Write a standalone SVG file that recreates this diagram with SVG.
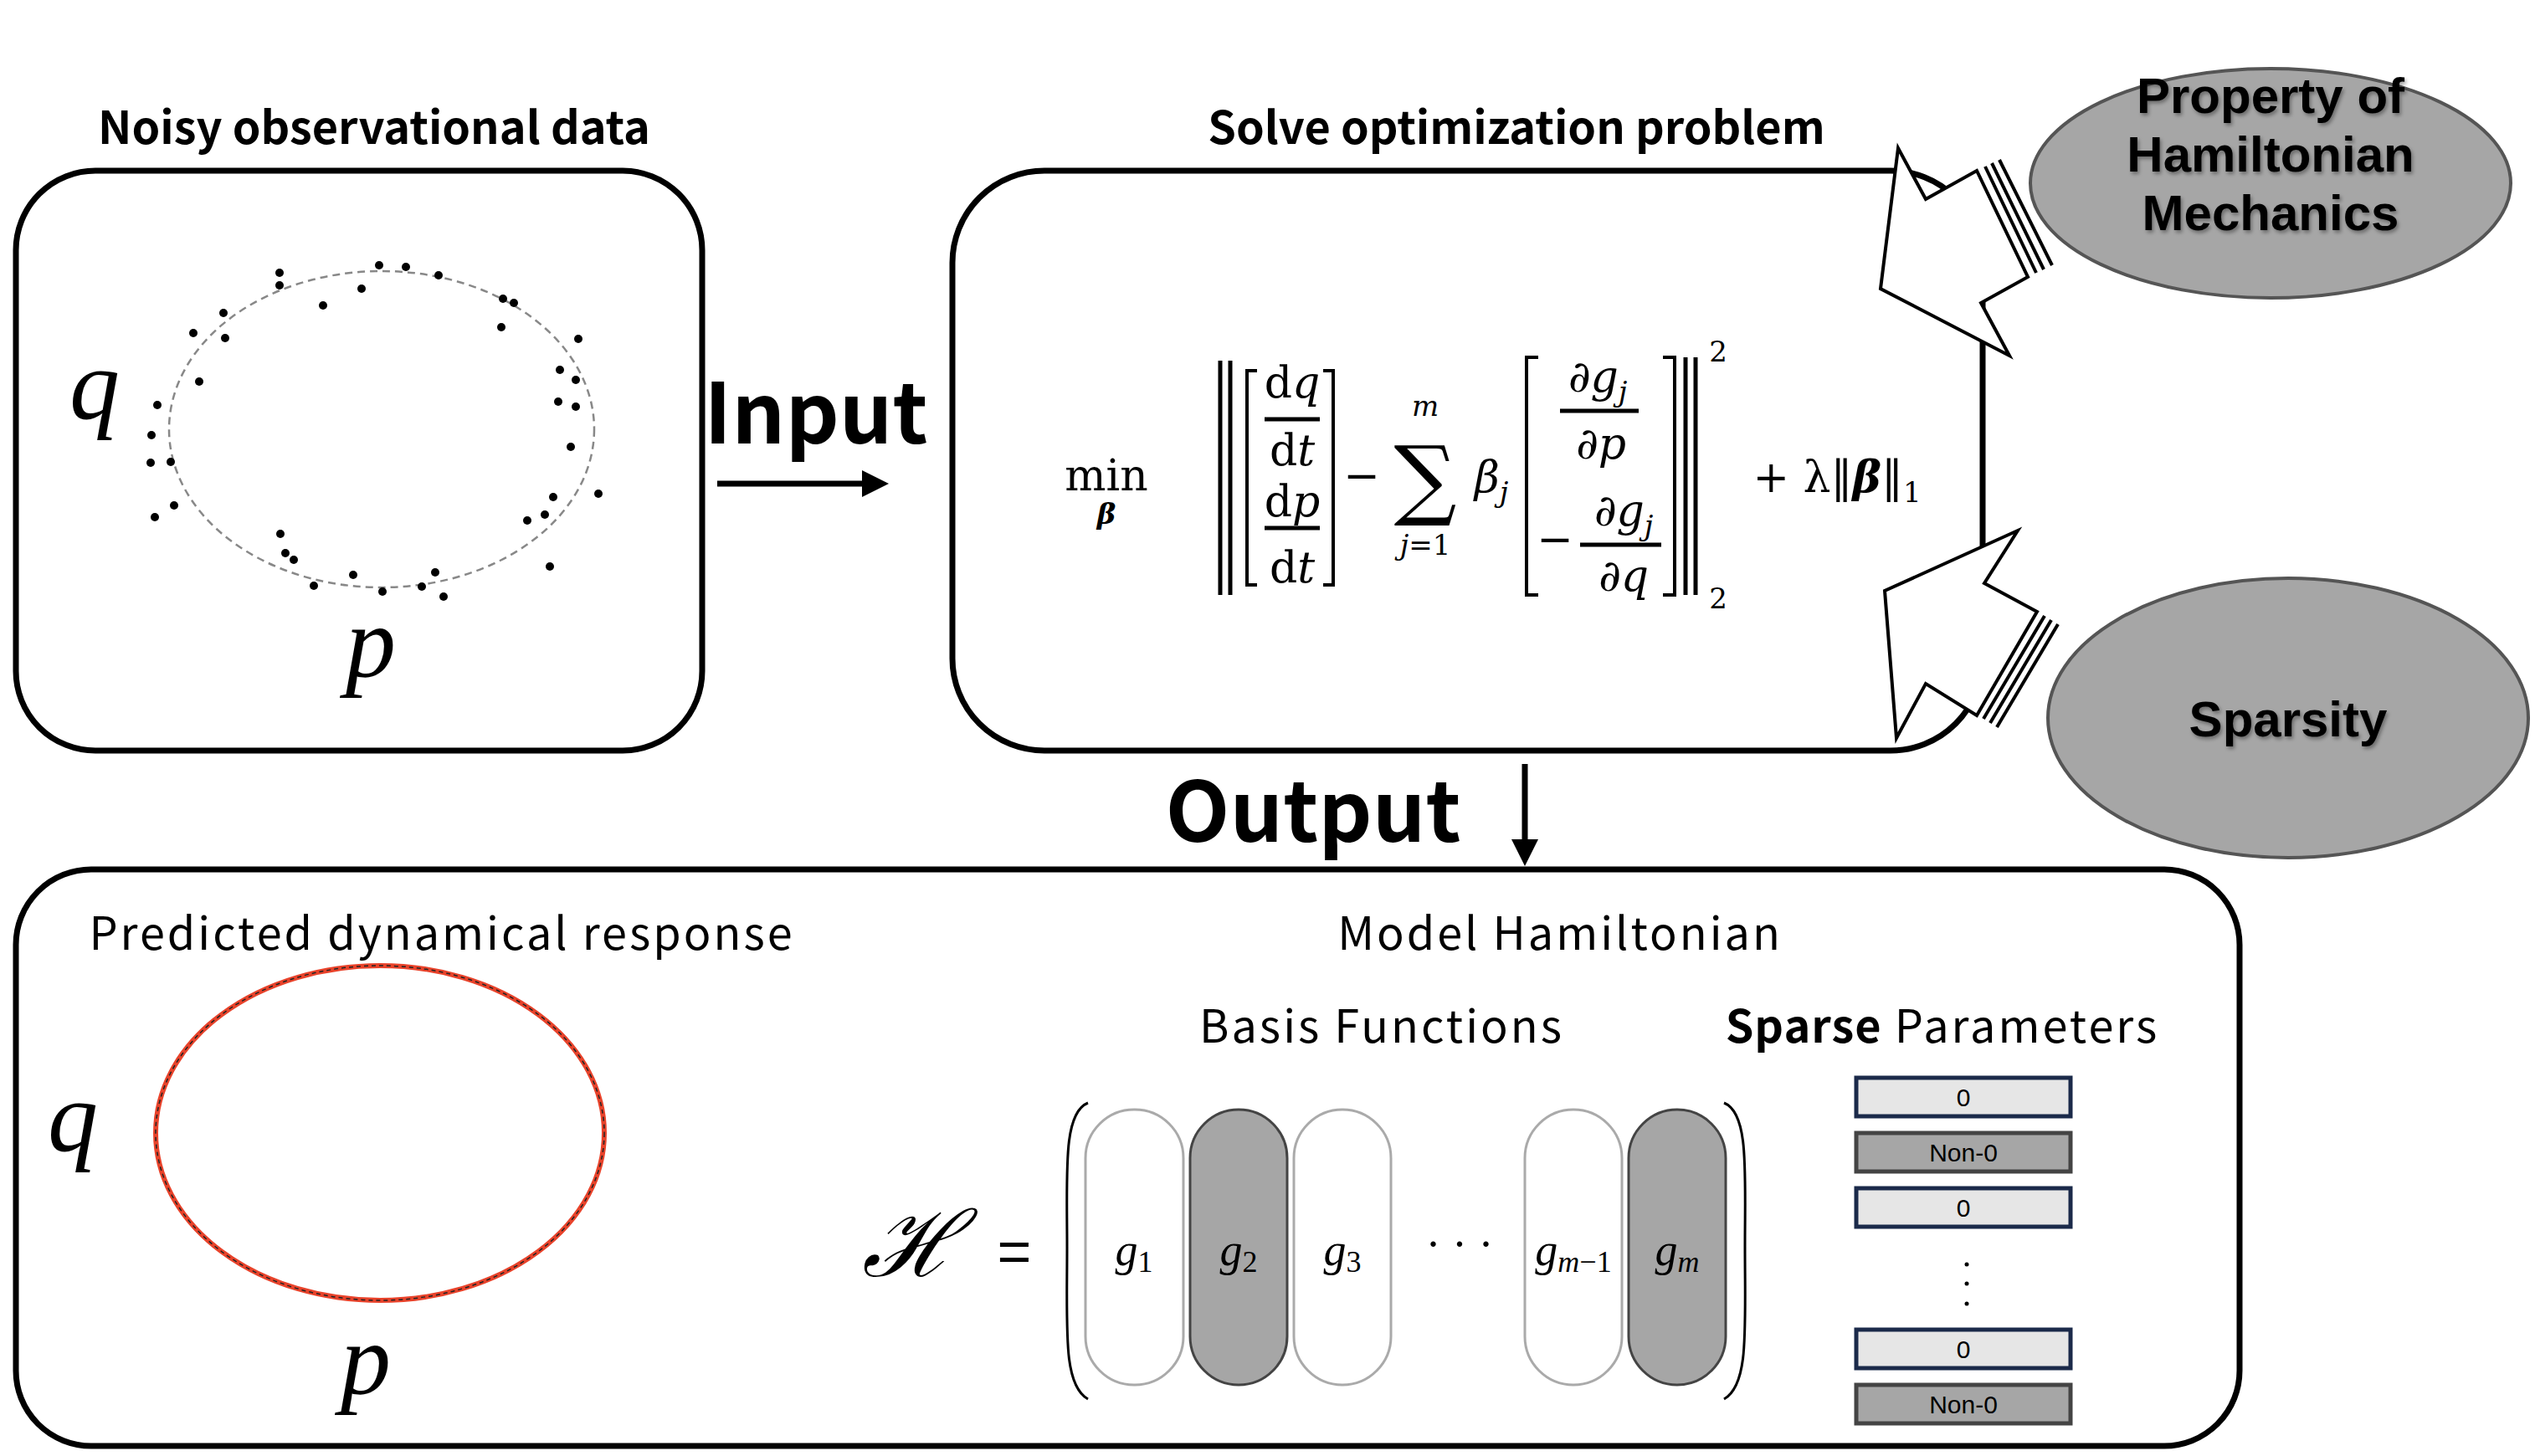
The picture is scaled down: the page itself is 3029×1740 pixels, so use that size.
<svg xmlns="http://www.w3.org/2000/svg" width="3029" height="1740" viewBox="0 0 3029 1740">
<style>
.box{fill:#fff;stroke:#000;stroke-width:7}
.hd{font-family:"Noto Sans CJK JP","Noto Sans",sans-serif;font-weight:bold;font-size:54px;text-anchor:middle}
.lt{font-family:"Noto Sans CJK JP","Noto Sans",sans-serif;font-size:54px;text-anchor:middle;letter-spacing:3px}
.m{font-family:"Liberation Serif","DejaVu Serif",serif;font-style:italic}
.f{font-family:"DejaVu Serif","Liberation Serif",serif;font-size:52px;text-anchor:middle}
.el{fill:#a6a6a6;stroke:#555;stroke-width:4}
.et{font-family:"Liberation Sans",Arial,sans-serif;font-weight:bold;font-size:60px;text-anchor:middle}
.dot{fill:#000}
.cap{stroke-width:3}
.pz{fill:#e6e6e6;stroke:#1b2a4a;stroke-width:5}
.pn{fill:#a6a6a6;stroke:#444;stroke-width:5}
.pt{font-family:"Liberation Sans",Arial,sans-serif;font-size:30px;text-anchor:middle}
.ln{stroke:#000;stroke-width:4;fill:none}
</style>
<defs>
<filter id="sh" x="-10%" y="-10%" width="120%" height="130%"><feDropShadow dx="2" dy="3" stdDeviation="2" flood-color="#000" flood-opacity="0.35"/></filter>
</defs>

<g id="noisy">
<text class="hd" x="447" y="172">Noisy observational data</text>
<rect class="box" x="19" y="204" width="820" height="693" rx="95"/>
<ellipse cx="456" cy="513" rx="254" ry="189" fill="none" stroke="#888" stroke-width="2.5" stroke-dasharray="9,6"/>
<g class="dot">
<circle cx="334" cy="326" r="5"/><circle cx="334" cy="341" r="5"/><circle cx="453" cy="317" r="5"/><circle cx="485" cy="319" r="5"/><circle cx="524" cy="329" r="5"/><circle cx="432" cy="345" r="5"/><circle cx="386" cy="365" r="5"/><circle cx="267" cy="374" r="5"/><circle cx="231" cy="398" r="5"/><circle cx="269" cy="404" r="5"/><circle cx="601" cy="357" r="5"/><circle cx="614" cy="362" r="5"/><circle cx="599" cy="391" r="5"/><circle cx="691" cy="405" r="5"/><circle cx="669" cy="442" r="5"/><circle cx="688" cy="454" r="5"/><circle cx="667" cy="480" r="5"/><circle cx="688" cy="486" r="5"/><circle cx="238" cy="456" r="5"/><circle cx="188" cy="484" r="5"/><circle cx="181" cy="520" r="5"/><circle cx="180" cy="553" r="5"/><circle cx="204" cy="552" r="5"/><circle cx="682" cy="534" r="5"/><circle cx="715" cy="590" r="5"/><circle cx="661" cy="594" r="5"/><circle cx="651" cy="615" r="5"/><circle cx="630" cy="622" r="5"/><circle cx="208" cy="604" r="5"/><circle cx="185" cy="618" r="5"/><circle cx="335" cy="638" r="5"/><circle cx="341" cy="661" r="5"/><circle cx="351" cy="669" r="5"/><circle cx="422" cy="687" r="5"/><circle cx="375" cy="700" r="5"/><circle cx="457" cy="707" r="5"/><circle cx="504" cy="701" r="5"/><circle cx="520" cy="684" r="5"/><circle cx="530" cy="713" r="5"/><circle cx="657" cy="677" r="5"/>
</g>
<text class="m" x="113" y="500" font-size="120" text-anchor="middle">q</text>
<text class="m" x="443" y="808" font-size="120" text-anchor="middle">p</text>
</g>

<g id="opt">
<text class="hd" x="1812" y="172">Solve optimization problem</text>
<rect class="box" x="1138" y="204" width="1231" height="693" rx="110"/>
<g class="f">
<text x="1322" y="586">min</text>
<text x="1322" y="626" font-size="34" font-weight="bold" font-style="italic">β</text>
<line class="ln" x1="1458" y1="431" x2="1458" y2="711" style="stroke-width:5"/>
<line class="ln" x1="1470" y1="431" x2="1470" y2="711" style="stroke-width:5"/>
<path class="ln" d="M1502,443 H1490 V699 H1502"/>
<text x="1544" y="475">d<tspan font-style="italic">q</tspan></text>
<line class="ln" x1="1511" y1="501" x2="1577" y2="501" style="stroke-width:5"/>
<text x="1544" y="556">d<tspan font-style="italic">t</tspan></text>
<text x="1544" y="617">d<tspan font-style="italic">p</tspan></text>
<line class="ln" x1="1511" y1="631" x2="1577" y2="631" style="stroke-width:5"/>
<text x="1544" y="696">d<tspan font-style="italic">t</tspan></text>
<path class="ln" d="M1581,443 H1593 V699 H1581"/>
<text x="1627" y="586">−</text>
<text x="1703" y="608" font-size="105">∑</text>
<text x="1703" y="497" font-size="34" font-style="italic">m</text>
<text x="1703" y="663" font-size="34"><tspan font-style="italic">j</tspan>=1</text>
<text x="1782" y="588" font-style="italic">β<tspan font-size="34" dy="12">j</tspan></text>
<path class="ln" d="M1838,427 H1824 V711 H1838"/>
<text x="1909" y="468" font-style="italic">∂g<tspan font-size="34" dy="12">j</tspan></text>
<line class="ln" x1="1864" y1="491" x2="1958" y2="491" style="stroke-width:5"/>
<text x="1913" y="548" font-style="italic">∂p</text>
<text x="1858" y="662">−</text>
<text x="1940" y="628" font-style="italic">∂g<tspan font-size="34" dy="12">j</tspan></text>
<line class="ln" x1="1888" y1="651" x2="1985" y2="651" style="stroke-width:5"/>
<text x="1940" y="706" font-style="italic">∂q</text>
<path class="ln" d="M1987,427 H2001 V711 H1987"/>
<line class="ln" x1="2014" y1="427" x2="2014" y2="711" style="stroke-width:5"/>
<line class="ln" x1="2026" y1="427" x2="2026" y2="711" style="stroke-width:5"/>
<text x="2053" y="432" font-size="34">2</text>
<text x="2053" y="727" font-size="34">2</text>
<text x="2195" y="588">+ λ‖<tspan font-weight="bold" font-style="italic">β</tspan>‖<tspan font-size="34" dy="12">1</tspan></text>
</g>
</g>

<g id="hamiltonian-property">
<ellipse class="el" cx="2713" cy="219" rx="287" ry="137"/>
<g class="et" filter="url(#sh)">
<text x="2713" y="135">Property of</text>
<text x="2713" y="205">Hamiltonian</text>
<text x="2713" y="275">Mechanics</text>
</g>
</g>
<g id="sparsity">
<ellipse class="el" cx="2734" cy="858" rx="287" ry="167"/>
<text class="et" x="2734" y="880" filter="url(#sh)">Sparsity</text>
</g>

<g id="bottom">
<rect class="box" x="19" y="1039" width="2657" height="689" rx="90"/>
<text class="lt" x="528" y="1135">Predicted dynamical response</text>
<ellipse cx="454" cy="1354" rx="268" ry="200" fill="none" stroke="#e8432b" stroke-width="6"/>
<ellipse cx="454" cy="1354" rx="268" ry="200" fill="none" stroke="#222" stroke-width="1.5" stroke-dasharray="5,4"/>
<text class="m" x="87" y="1375" font-size="120" text-anchor="middle">q</text>
<text class="m" x="437" y="1665" font-size="120" text-anchor="middle">p</text>
<text class="lt" x="1864" y="1135">Model Hamiltonian</text>
<text class="lt" x="1651" y="1246">Basis Functions</text>
<text class="lt" x="2321" y="1246"><tspan font-weight="bold" letter-spacing="1">Sparse</tspan> Parameters</text>
<text class="m" x="1088" y="1525" font-size="110" text-anchor="middle">ℋ</text>
<text x="1212" y="1520" font-family="Liberation Sans,sans-serif" font-size="70" text-anchor="middle">=</text>
<path d="M1300,1318 C1270,1330 1275,1400 1275,1490 C1275,1590 1270,1655 1300,1672" fill="none" stroke="#000" stroke-width="3"/>
<path d="M2060,1318 C2090,1330 2085,1400 2085,1490 C2085,1590 2090,1655 2060,1672" fill="none" stroke="#000" stroke-width="3"/>
<rect class="cap" x="1297" y="1326" width="117" height="329" rx="58" fill="#fff" stroke="#aaa"/>
<rect class="cap" x="1422" y="1326" width="116" height="329" rx="58" fill="#a6a6a6" stroke="#444"/>
<rect class="cap" x="1546" y="1326" width="116" height="329" rx="58" fill="#fff" stroke="#aaa"/>
<rect class="cap" x="1822" y="1326" width="116" height="329" rx="58" fill="#fff" stroke="#aaa"/>
<rect class="cap" x="1946" y="1326" width="116" height="329" rx="58" fill="#a6a6a6" stroke="#444"/>
<g class="m" font-size="54" text-anchor="middle">
<text x="1355" y="1512">g<tspan font-style="normal" font-size="36" dy="8">1</tspan></text>
<text x="1480" y="1512">g<tspan font-style="normal" font-size="36" dy="8">2</tspan></text>
<text x="1604" y="1512">g<tspan font-style="normal" font-size="36" dy="8">3</tspan></text>
<text x="1744" y="1505" font-style="normal">· · ·</text>
<text x="1880" y="1512">g<tspan font-size="36" dy="8">m</tspan><tspan font-style="normal" font-size="36">−1</tspan></text>
<text x="2004" y="1512">g<tspan font-size="36" dy="8">m</tspan></text>
</g>
<rect class="pz" x="2218" y="1288" width="256" height="46"/><text class="pt" x="2346" y="1322">0</text>
<rect class="pn" x="2218" y="1354" width="256" height="46"/><text class="pt" x="2346" y="1388">Non-0</text>
<rect class="pz" x="2218" y="1420" width="256" height="46"/><text class="pt" x="2346" y="1454">0</text>
<circle cx="2350" cy="1511" r="2.5"/><circle cx="2350" cy="1534" r="2.5"/><circle cx="2350" cy="1558" r="2.5"/>
<rect class="pz" x="2218" y="1589" width="256" height="46"/><text class="pt" x="2346" y="1623">0</text>
<rect class="pn" x="2218" y="1655" width="256" height="46"/><text class="pt" x="2346" y="1689">Non-0</text>
</g>

<g id="connectors">
<text x="975" y="530" font-family="Noto Sans CJK JP,Noto Sans,sans-serif" font-weight="bold" font-size="100" text-anchor="middle">Input</text>
<line x1="857" y1="578" x2="1035" y2="578" stroke="#000" stroke-width="7"/>
<polygon points="1062,578 1030,562 1030,594" fill="#000"/>
<text x="1569" y="1006" font-family="Noto Sans CJK JP,Noto Sans,sans-serif" font-weight="bold" font-size="100" text-anchor="middle">Output</text>
<line x1="1822" y1="913" x2="1822" y2="1008" stroke="#000" stroke-width="7"/>
<polygon points="1822,1035 1806,1003 1838,1003" fill="#000"/>
<g fill="#fff" stroke="#000" stroke-width="4" stroke-linejoin="miter">
<polygon points="2268,177 2301,238 2362,204 2423,331 2367,362 2401,425 2247,345"/>
<line x1="2372" y1="199" x2="2433" y2="326"/><line x1="2380" y1="195" x2="2442" y2="322"/><line x1="2389" y1="191" x2="2452" y2="317"/>
<polygon points="2411,634 2371,697 2434,731 2362,855 2301,817 2266,882 2252,706"/>
<line x1="2443" y1="736" x2="2370" y2="859"/><line x1="2451" y1="741" x2="2378" y2="864"/><line x1="2459" y1="746" x2="2386" y2="869"/>
</g>
</g>
</svg>
